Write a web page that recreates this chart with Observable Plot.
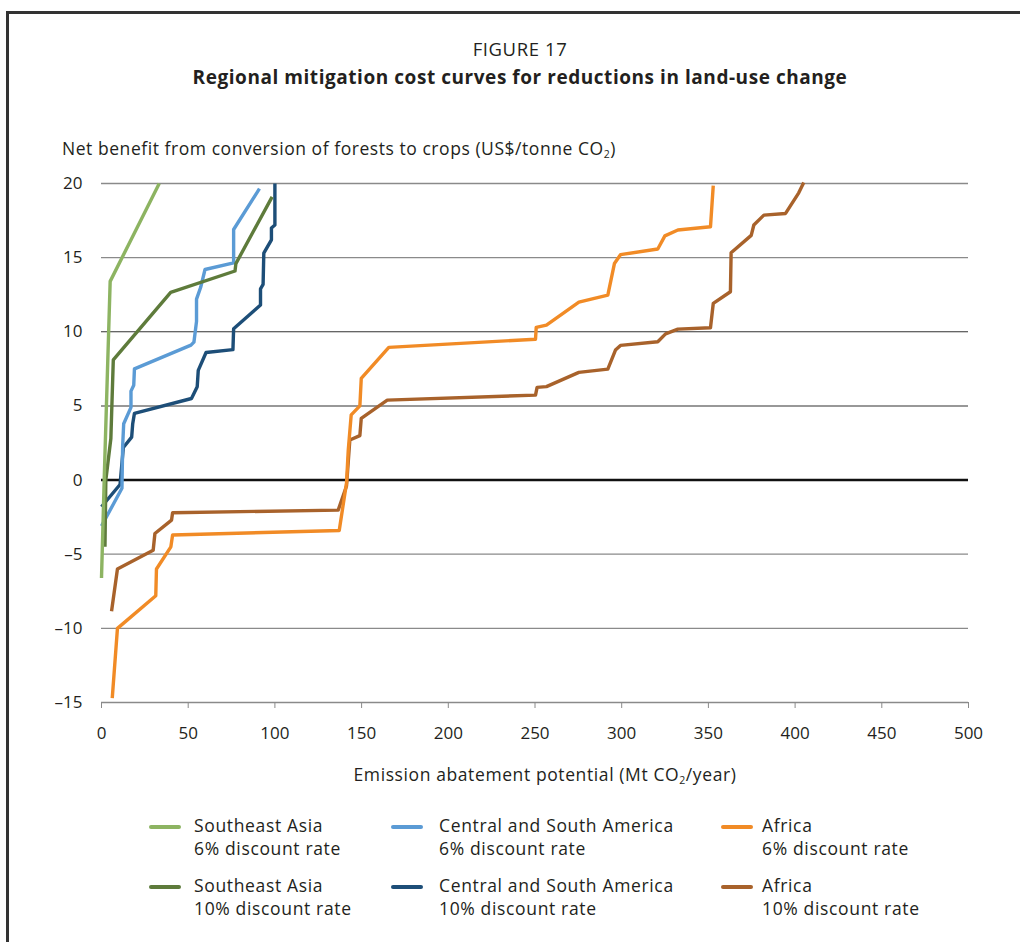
<!DOCTYPE html>
<html><head><meta charset="utf-8">
<script src="https://cdn.jsdelivr.net/npm/d3@7"></script>
<script src="https://cdn.jsdelivr.net/npm/@observablehq/plot@0.6"></script>
<style>
body{margin:0;background:#fff;font-family:"Open Sans",sans-serif;color:#231f20}
#wrap{position:relative;width:1020px;height:942px;overflow:hidden;background:#fff}
#frame{position:absolute;left:6px;top:11px;width:1200px;height:1200px;border-left:3px solid #333;border-top:3px solid #333}
.t{position:absolute;white-space:nowrap;line-height:1}
.t sub{font-size:0.6em;vertical-align:-0.25em;line-height:0}
.lab{font-size:17.5px;letter-spacing:0.6px}
#chart{position:absolute;left:0;top:165px}
.sw{position:absolute;width:32px;height:4px;border-radius:2px}
</style></head><body><div id="wrap">
<div id="frame"></div>
<div class="t" style="left:520px;top:40px;transform:translateX(-50%);font-size:18.5px;letter-spacing:0.6px">FIGURE 17</div>
<div class="t" style="left:520px;top:68px;transform:translateX(-50%);font-size:19px;letter-spacing:0.55px;font-weight:bold">Regional mitigation cost curves for reductions in land-use change</div>
<div class="t lab" style="left:62px;top:140px;letter-spacing:0.55px">Net benefit from conversion of forests to crops (US$/tonne CO<sub>2</sub>)</div>
<div id="chart"></div>
<div class="t lab" style="left:545px;top:766px;transform:translateX(-50%)">Emission abatement potential (Mt CO<sub>2</sub>/year)</div>
<div id="legend"></div>
</div>
<script>
// ---- data ----
const seriesNames = [
  "Southeast Asia 6% discount rate",
  "Southeast Asia 10% discount rate",
  "Central and South America 6% discount rate",
  "Central and South America 10% discount rate",
  "Africa 6% discount rate",
  "Africa 10% discount rate"
];
const legendRegion = ["Southeast Asia","Southeast Asia","Central and South America","Central and South America","Africa","Africa"];
const legendRate = ["6% discount rate","10% discount rate","6% discount rate","10% discount rate","6% discount rate","10% discount rate"];
const seriesColors = ["#8db462","#5e7b3b","#5b9bd5","#1d4e78","#f18b26","#a8622b"];

const seAsia6X = [0, 1.6, 5, 33.3];
const seAsia6Y = [-6.6, 0.2, 13.4, 20];

const seAsia10X = [2, 2.5, 5.4, 6.8, 39.9, 77, 77.5, 98.4];
const seAsia10Y = [-4.5, 0, 2.8, 8.1, 12.66, 14.1, 14.6, 19.1];

const csAm6X = [0, 11.8, 12.2, 12.8, 17, 17, 18.6, 19, 51.6, 53.3, 54.8, 54.8, 57.2, 59.7, 76.2, 76.2, 91.1];
const csAm6Y = [-3.1, -0.55, 2.3, 3.8, 4.9, 6.0, 6.4, 7.5, 9.1, 9.3, 10.7, 12.2, 13.0, 14.2, 14.65, 16.9, 19.65];

const csAm10X = [0, 10.7, 12.6, 17.4, 18, 19, 51.9, 55.2, 55.8, 60.3, 75.8, 76.2, 91.7, 91.7, 93.2, 93.6, 98, 98, 100, 100];
const csAm10Y = [-1.8, -0.3, 2.2, 2.9, 3.8, 4.5, 5.5, 6.3, 7.4, 8.6, 8.8, 10.2, 11.8, 12.9, 13.2, 15.3, 16.2, 17.0, 17.2, 20];

const africa6X = [6.2, 9.2, 31.3, 31.7, 40, 41, 137.1, 141.3, 142.3, 144, 149, 149.8, 165.7, 250.3, 250.7, 256.6, 275.3, 292, 295.8, 299.3, 320.8, 324.9, 332.4, 351.2, 352.8];
const africa6Y = [-14.7, -10, -7.8, -6, -4.5, -3.7, -3.4, -0.2, 2.0, 4.4, 5.0, 6.85, 8.95, 9.5, 10.3, 10.45, 12.0, 12.47, 14.6, 15.2, 15.58, 16.47, 16.86, 17.08, 19.85];

const africa10X = [5.8, 9.2, 29.8, 30.8, 40.4, 41, 136.5, 141.3, 143.2, 149, 149.8, 164.8, 250.3, 251.2, 256.6, 275.3, 292, 296.4, 299.3, 320.8, 325.3, 332.4, 351.2, 352.8, 362.7, 363.1, 374.7, 376.2, 382, 394.5, 402.1, 405];
const africa10Y = [-8.85, -6, -4.73, -3.6, -2.7, -2.2, -2.03, -0.4, 2.7, 3.0, 4.16, 5.39, 5.73, 6.25, 6.3, 7.26, 7.48, 8.77, 9.08, 9.33, 9.86, 10.18, 10.27, 11.91, 12.7, 15.33, 16.5, 17.2, 17.87, 17.98, 19.37, 20.07];

const xTicks = [0, 50, 100, 150, 200, 250, 300, 350, 400, 450, 500];
const yTicks = [-15, -10, -5, 0, 5, 10, 15, 20];
const gridLight = [20, 15, -5, -10];
const gridDark = [10, 5];

// ---- build table ----
const seriesX = [seAsia6X, seAsia10X, csAm6X, csAm10X, africa6X, africa10X];
const seriesY = [seAsia6Y, seAsia10Y, csAm6Y, csAm10Y, africa6Y, africa10Y];
const rows = [];
seriesNames.forEach((name, i) => {
  seriesX[i].forEach((x, j) => rows.push({series: name, x, y: seriesY[i][j]}));
});
const drawOrder = [5, 4, 3, 2, 1, 0];
const orderedRows = drawOrder.flatMap(i => rows.filter(r => r.series === seriesNames[i]));

const chart = Plot.plot({
  width: 1020, height: 600,
  marginTop: 18, marginBottom: 63, marginLeft: 101, marginRight: 52,
  style: {fontFamily: "'Open Sans', sans-serif", fontSize: "17px", color: "#231f20", background: "transparent", overflow: "visible"},
  x: {domain: [0, 500], label: null},
  y: {domain: [-15, 20], label: null},
  color: {domain: seriesNames, range: seriesColors},
  marks: [
    Plot.ruleY(gridLight, {stroke: "#8a8a8a", strokeWidth: 1.3}),
    Plot.ruleY(gridDark, {stroke: "#333", strokeWidth: 1.1}),
    Plot.ruleY([-15], {stroke: "#8a8a8a", strokeWidth: 1.3}),
    Plot.axisX({ticks: xTicks, tickSize: 6, tickPadding: 18, stroke: "#8a8a8a", strokeOpacity: 1, label: null, fill: "#231f20"}),
    Plot.axisY({ticks: yTicks, tickSize: 0, tickPadding: 19, label: null, tickFormat: d => d < 0 ? "\u2013" + (-d) : String(d), fill: "#231f20"}),
    Plot.ruleY([0], {stroke: "#111", strokeWidth: 2.6}),
    Plot.line(orderedRows, {x: "x", y: "y", z: "series", stroke: "series", strokeWidth: 3.4, strokeLinejoin: "round", strokeLinecap: "butt"})
  ]
});
document.getElementById("chart").appendChild(chart);

// ---- legend ----
const legCols = [{sw: 149, tx: 194}, {sw: 391, tx: 439}, {sw: 721, tx: 762}];
const legRows = [826, 886];
const legend = document.getElementById("legend");
seriesNames.forEach((name, i) => {
  const col = legCols[Math.floor(i / 2)];
  const rowY = legRows[i % 2];
  const sw = document.createElement("div");
  sw.className = "sw";
  sw.style.left = col.sw + "px";
  sw.style.top = (rowY - 1) + "px";
  sw.style.background = seriesColors[i];
  legend.appendChild(sw);
  const t1 = document.createElement("div");
  t1.className = "t lab";
  t1.style.cssText = `left:${col.tx}px;top:${rowY - 9}px;font-size:17.5px;letter-spacing:0.65px`;
  t1.textContent = legendRegion[i];
  legend.appendChild(t1);
  const t2 = document.createElement("div");
  t2.className = "t lab";
  t2.style.cssText = `left:${col.tx}px;top:${rowY + 14}px;font-size:17.5px;letter-spacing:0.65px`;
  t2.textContent = legendRate[i];
  legend.appendChild(t2);
});
</script>
</body></html>
